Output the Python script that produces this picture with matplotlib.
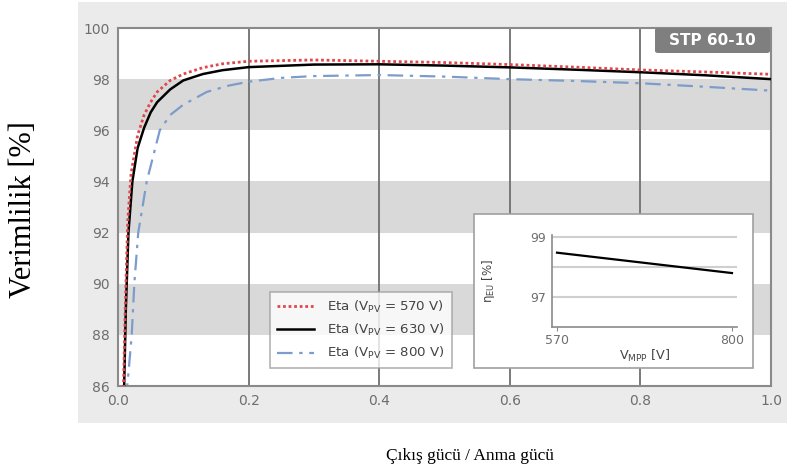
import matplotlib
matplotlib.use("Agg")
import matplotlib.pyplot as plt
from matplotlib.patches import Rectangle, FancyBboxPatch

# Efficiency curves: output power / rated power vs. efficiency [%]
p_570 = [0.008, 0.011, 0.015, 0.02, 0.03, 0.04, 0.05, 0.06, 0.08, 0.10, 0.13, 0.16,
         0.2, 0.3, 0.4, 0.5, 0.6, 0.7, 0.8, 0.9, 1.0]
eta_570 = [85.5, 89.0, 92.5, 94.3, 95.8, 96.6, 97.1, 97.5, 97.95, 98.2, 98.45, 98.6,
           98.7, 98.75, 98.7, 98.65, 98.57, 98.47, 98.36, 98.28, 98.19]

p_630 = [0.009, 0.012, 0.016, 0.022, 0.03, 0.04, 0.05, 0.06, 0.08, 0.10, 0.13, 0.16,
         0.2, 0.3, 0.4, 0.5, 0.6, 0.7, 0.8, 0.9, 1.0]
eta_630 = [85.5, 89.0, 92.0, 94.0, 95.3, 96.1, 96.7, 97.1, 97.6, 97.95, 98.2, 98.35,
           98.47, 98.57, 98.58, 98.53, 98.46, 98.37, 98.27, 98.15, 98.0]

p_800 = [0.012, 0.016, 0.021, 0.025, 0.031, 0.044, 0.064, 0.08, 0.10, 0.136, 0.17,
         0.2, 0.25, 0.3, 0.4, 0.5, 0.6, 0.7, 0.8, 0.9, 1.0]
eta_800 = [85.5, 86.5, 88.0, 90.0, 92.0, 94.0, 96.0, 96.6, 97.0, 97.5, 97.75,
           97.9, 98.05, 98.12, 98.16, 98.1, 98.0, 97.93, 97.84, 97.7, 97.55]

series_labels = [r"Eta (V$_{\rm PV}$ = 570 V)", r"Eta (V$_{\rm PV}$ = 630 V)",
                 r"Eta (V$_{\rm PV}$ = 800 V)"]

x_ticks = [0.0, 0.2, 0.4, 0.6, 0.8, 1.0]
x_ticklabels = ["0.0", "0.2", "0.4", "0.6", "0.8", "1.0"]
y_ticks = [86, 88, 90, 92, 94, 96, 98, 100]

# European efficiency vs. MPP voltage
v_mpp = [570, 800]
eta_eu = [98.48, 97.8]

title_tag = "STP 60-10"

grey_txt = "#6e6e6e"
fig = plt.figure(figsize=(8.01, 4.73), dpi=100)

# light grey panel behind the chart
fig.patches.append(Rectangle((78 / 801, 1 - 423 / 473), 709 / 801, 421 / 473,
                             transform=fig.transFigure, facecolor="#ebebeb",
                             edgecolor="none", zorder=-5))

ax = fig.add_axes([118 / 801, 1 - 386 / 473, 653 / 801, 358 / 473], zorder=1)
ax.set_facecolor("white")
ax.set_xlim(0, 1)
ax.set_ylim(86, 100)
for lo in (88, 92, 96):
    ax.axhspan(lo, lo + 2, color="#d9d9d9", lw=0, zorder=0)
for xv in (0.2, 0.4, 0.6, 0.8):
    ax.axvline(xv, color="#707070", lw=1.3, zorder=1)

ax.plot(p_570, eta_570, color="#e0474c", lw=2.0, linestyle=(0, (1, 1)),
        label=series_labels[0], zorder=4)
ax.plot(p_630, eta_630, color="black", lw=1.8, label=series_labels[1], zorder=3)
ax.plot(p_800, eta_800, color="#7c9ccc", lw=1.6, linestyle=(0, (7, 3, 1.5, 3)),
        label=series_labels[2], zorder=2)

ax.set_xticks(x_ticks)
ax.set_xticklabels(x_ticklabels)
ax.set_yticks(y_ticks)
ax.tick_params(length=0, labelsize=10, labelcolor=grey_txt, pad=6)
for s in ax.spines.values():
    s.set_color("#8a8a8a")
    s.set_linewidth(1.5)

leg = ax.legend(loc="lower left", bbox_to_anchor=(0.233, 0.05), borderaxespad=0,
                fontsize=9.6, frameon=True, fancybox=False, handlelength=2.8,
                labelspacing=0.55, borderpad=0.5, handletextpad=1.0)
leg.get_frame().set_edgecolor("#a0a0a0")
leg.get_frame().set_linewidth(1.2)
for t in leg.get_texts():
    t.set_color("#444444")

# model tag in the top-right corner
tag = FancyBboxPatch((655 / 801, 1 - 53 / 473), 115 / 801, 25 / 473,
                     boxstyle="round,pad=0,rounding_size=0.004",
                     transform=fig.transFigure, facecolor="#7f7f7f",
                     edgecolor="none", zorder=5)
fig.patches.append(tag)
fig.text(712 / 801, 1 - 40.5 / 473, title_tag, color="white", fontsize=11,
         fontweight="bold", ha="center", va="center", zorder=6)

# inset frame
fig.patches.append(Rectangle((474 / 801, 1 - 368 / 473), 279 / 801, 154 / 473,
                             transform=fig.transFigure, facecolor="white",
                             edgecolor="#a0a0a0", lw=1.2, zorder=5))
ins = fig.add_axes([552 / 801, 1 - 327 / 473, 185 / 801, 92 / 473], zorder=6)
ins.set_facecolor("none")
ins.set_xlim(563.4, 806.6)
ins.set_ylim(96, 99.07)
for yv in (97, 98, 99):
    ins.axhline(yv, color="#cfcfcf", lw=1.5, zorder=0)
ins.plot(v_mpp, eta_eu, color="black", lw=1.6, zorder=2)
ins.set_xticks(v_mpp)
ins.set_yticks([97, 99])
ins.tick_params(labelsize=9, labelcolor=grey_txt, color="#8a8a8a", length=3, pad=2)
ins.tick_params(axis="y", length=0, pad=4)
ins.spines["top"].set_visible(False)
ins.spines["right"].set_visible(False)
for k in ("left", "bottom"):
    ins.spines[k].set_color("#8a8a8a")
    ins.spines[k].set_linewidth(1.2)
ins.set_xlabel(r"V$_{\rm MPP}$ [V]", fontsize=9.2, color="#444444", labelpad=1)
ins.set_ylabel(r"η$_{\rm EU}$ [%]", fontsize=8.5, color="#444444", labelpad=24)

# axis titles
fig.text(24 / 801, 1 - 210 / 473, "Verimlilik [%]", rotation=90, fontsize=22,
         family="Liberation Serif", ha="center", va="center")
fig.text(470 / 801, 1 - 456 / 473, "Çıkış gücü / Anma gücü", fontsize=12.5,
         family="Liberation Serif", ha="center", va="center")

fig.savefig("out.png", dpi=100)
